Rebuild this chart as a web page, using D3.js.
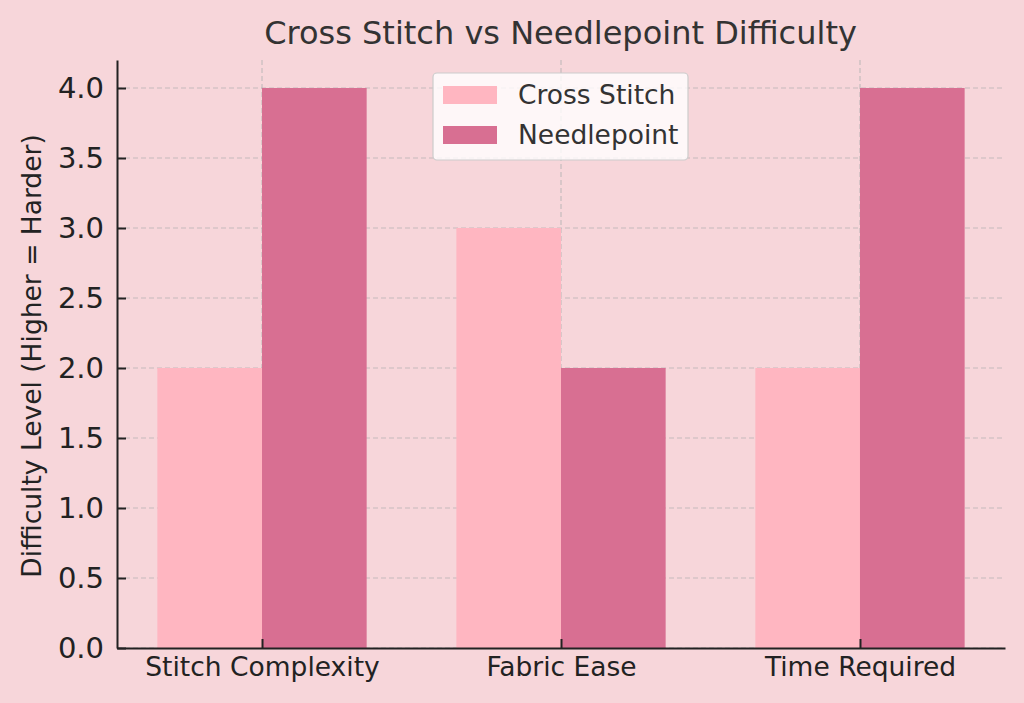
<!DOCTYPE html>
<html><head><meta charset="utf-8">
<script src="https://cdn.jsdelivr.net/npm/d3@7"></script>
<style>body{margin:0;background:#F7D6DA;}svg{display:block;font-family:"DejaVu Sans",sans-serif;}</style>
</head><body><svg id="c" width="1024" height="703"></svg>
<script>
const categories = ["Stitch Complexity", "Fabric Ease", "Time Required"];
const crossStitch = [2, 3, 2];
const needlepoint = [4, 2, 4];
const seriesNames = ["Cross Stitch", "Needlepoint"];
const yTicks = [0, 0.5, 1.0, 1.5, 2.0, 2.5, 3.0, 3.5, 4.0];
const colors = ["#FFB6C1", "#D86F92"];

const svg = d3.select("#c");
svg.append("rect").attr("width",1024).attr("height",703).attr("fill","#F7D6DA");
const L=117, R=1005, T=60, B=648;
const x = d3.scaleLinear().domain([-0.485, 2.485]).range([L, R]);
const y = d3.scaleLinear().domain([0, 4.2]).range([B, T]);
const bw = 0.35;

// grid
const g = svg.append("g");
g.selectAll(".hg").data(yTicks).join("line")
  .attr("x1",L).attr("x2",R).attr("y1",d=>y(d)).attr("y2",d=>y(d))
  .attr("stroke","#b0b0b0").attr("stroke-opacity",0.7).attr("stroke-width",1.2).attr("stroke-dasharray","5,3");
g.selectAll(".vg").data(categories).join("line")
  .attr("x1",(d,i)=>x(i)).attr("x2",(d,i)=>x(i)).attr("y1",T).attr("y2",B)
  .attr("stroke","#b0b0b0").attr("stroke-opacity",0.7).attr("stroke-width",1.2).attr("stroke-dasharray","5,3");

// bars
const series = [crossStitch, needlepoint];
series.forEach((vals, s) => {
  svg.append("g").selectAll("rect").data(vals).join("rect")
    .attr("x",(d,i)=>x(i + (s===0 ? -bw : 0)))
    .attr("width", x(bw) - x(0))
    .attr("y", d=>y(d)).attr("height", d=>y(0)-y(d))
    .attr("fill", colors[s]);
});

// axes
const yAxis = d3.axisLeft(y).tickValues(yTicks).tickFormat(d3.format(".1f")).tickSizeInner(-9).tickSizeOuter(0).tickPadding(13);
const ya = svg.append("g").attr("transform",`translate(${L},0)`).call(yAxis);
ya.select(".domain").attr("stroke","#222").attr("stroke-width",2);
ya.selectAll(".tick line").attr("stroke","#222").attr("stroke-width",2);
ya.selectAll(".tick text").attr("font-size",29).attr("fill","#222").attr("font-family","DejaVu Sans");

const xAxis = d3.axisBottom(x).tickValues([0,1,2]).tickFormat(i=>categories[i]).tickSizeInner(-9).tickSizeOuter(0).tickPadding(9);
const xa = svg.append("g").attr("transform",`translate(0,${B})`).call(xAxis);
xa.select(".domain").attr("stroke","#222").attr("stroke-width",2);
xa.selectAll(".tick line").attr("stroke","#222").attr("stroke-width",2);
xa.selectAll(".tick text").attr("font-size",26.5).attr("fill","#222").attr("font-family","DejaVu Sans");

// title
svg.append("text").attr("x",560.5).attr("y",44).attr("text-anchor","middle")
  .attr("font-size",32).attr("fill","#333").text("Cross Stitch vs Needlepoint Difficulty");
// y label
svg.append("text").attr("transform","translate(41,356) rotate(-90)").attr("text-anchor","middle")
  .attr("font-size",26.5).attr("fill","#222").text("Difficulty Level (Higher = Harder)");

// legend
const lg = svg.append("g");
lg.append("rect").attr("x",433).attr("y",73).attr("width",255).attr("height",87).attr("rx",4)
  .attr("fill","#fff").attr("fill-opacity",0.8).attr("stroke","#ccc").attr("stroke-width",1.2);
seriesNames.forEach((n,i)=>{
  lg.append("rect").attr("x",443).attr("y",86+i*40).attr("width",54).attr("height",18).attr("fill",colors[i]);
  lg.append("text").attr("x",518).attr("y",104+i*40).attr("font-size",26.5).attr("fill","#333").text(n);
});
</script></body></html>
